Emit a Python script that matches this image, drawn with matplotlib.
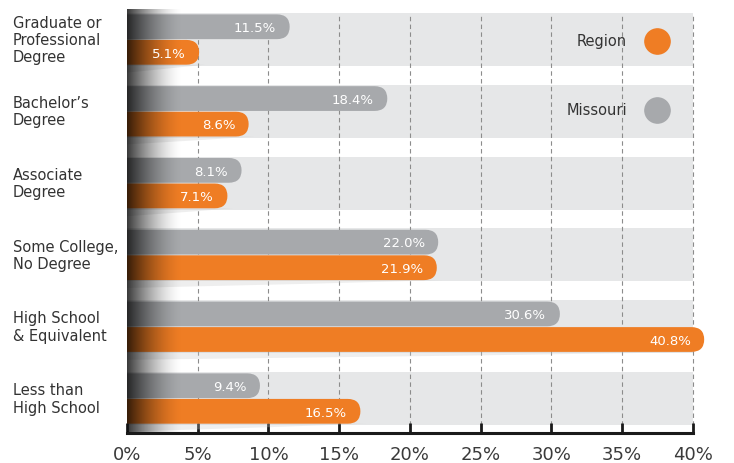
import numpy as np
import matplotlib
matplotlib.use('Agg')
import matplotlib.pyplot as plt
from matplotlib.patches import FancyBboxPatch, Rectangle, Polygon

categories = ['Graduate or\nProfessional\nDegree', 'Bachelor\u2019s\nDegree', 'Associate\nDegree',
              'Some College,\nNo Degree', 'High School\n& Equivalent', 'Less than\nHigh School']
missouri = [11.5, 18.4, 8.1, 22.0, 30.6, 9.4]
region = [5.1, 8.6, 7.1, 21.9, 40.8, 16.5]
xticks = [0, 5, 10, 15, 20, 25, 30, 35, 40]

grey = '#A7A9AC'
orange = '#EF7D24'
band = '#E6E7E8'
txt = '#333333'

plt.rcParams['font.family'] = ['DejaVu Sans']

fig = plt.figure(figsize=(7.34, 4.64), dpi=100)
ax = fig.add_axes([0.173, 0.0647, 0.771, 0.9137])
ax.set_xlim(0, 40)
ax.set_ylim(5.48, -0.425)

bandHalf = 0.37
barH = 0.345
off = 0.178
rad = 0.9          # rounding radius in % units
aspect = 0.196     # y units per x unit (pixel ratio)

clipRect = Rectangle((0, -1), 60, 10, transform=ax.transData)

def roundBar(y, val, color):
    p = FancyBboxPatch((-2, y - barH / 2), val + 2, barH,
                       boxstyle='round,pad=0,rounding_size=%g' % rad,
                       mutation_aspect=aspect, fc=color, ec='none', zorder=3)
    ax.add_patch(p)
    p.set_clip_path(clipRect)
    return p

for i in range(len(categories)):
    ax.add_patch(Rectangle((0, i - bandHalf), 40, 2 * bandHalf, fc=band, ec='none', zorder=0))

# dashed grid
for x in xticks[1:]:
    ax.plot([x, x], [5.48, -0.37], color='#8C8C8C', lw=0.8, ls=(0, (4, 3)), zorder=1,
            clip_on=False)

# faint shadows under the orange bars
for i, v in enumerate(region):
    yb = i + off + barH / 2
    sh = Polygon([[0, yb], [v + 0.4, yb], [v * 0.6, yb + 0.05], [0, yb + 0.11]],
                 closed=True, fc='#C8C8C8', ec='none', alpha=0.3, zorder=2)
    ax.add_patch(sh)

for i, (m, r) in enumerate(zip(missouri, region)):
    roundBar(i - off, m, grey)
    roundBar(i + off, r, orange)
    ax.text(m - 0.95, i - off + 0.01, '%.1f%%' % m, color='white', fontsize=9.5,
            ha='right', va='center', zorder=5)
    ax.text(r - 0.95, i + off + 0.01, '%.1f%%' % r, color='white', fontsize=9.5,
            ha='right', va='center', zorder=5)

# dark fade at the left edge
grad = np.linspace(0, 1, 200)
alpha = 0.78 * np.clip(1 - grad, 0, 1) ** 1.6
img = np.zeros((1, 200, 4))
img[0, :, 3] = alpha
ax.imshow(img, extent=[0, 3.9, 5.48, -0.425], aspect='auto', interpolation='bilinear', zorder=4)
ax.set_xlim(0, 40)
ax.set_ylim(5.48, -0.425)

# legend
ax.scatter([37.45], [0.02], s=330, color=orange, zorder=5, clip_on=False)
ax.scatter([37.45], [0.98], s=330, color=grey, zorder=5, clip_on=False)
ax.text(35.35, 0.02, 'Region', fontsize=10.5, color=txt, ha='right', va='center', zorder=5)
ax.text(35.35, 0.98, 'Missouri', fontsize=10.5, color=txt, ha='right', va='center', zorder=5)

for i, c in enumerate(categories):
    fig.text(13 / 734, 1 - (40.5 + 71.8 * i) / 464, c, fontsize=10.5, color=txt,
             ha='left', va='center', linespacing=1.2)

for s in ['top', 'right', 'left']:
    ax.spines[s].set_visible(False)
ax.spines['bottom'].set_linewidth(2.2)
ax.spines['bottom'].set_color('#1A1A1A')
ax.spines['bottom'].set_zorder(6)
ax.set_yticks([])
ax.set_xticks(xticks)
ax.set_xticklabels(['%d%%' % x for x in xticks], fontsize=13, color='#3A3A3A')
ax.tick_params(axis='x', direction='in', length=7, width=2, color='#1A1A1A', pad=9)

fig.savefig('out.png', dpi=100)
